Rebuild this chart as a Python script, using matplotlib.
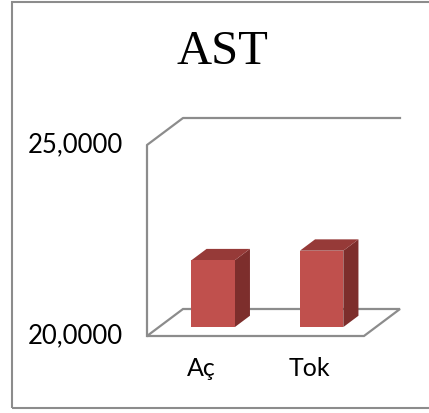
import matplotlib.pyplot as plt
from matplotlib.patches import Rectangle

# AST levels, fasting vs fed
categories = ["Aç", "Tok"]
values = [21.75, 22.0]
y_ticks = [20, 25]
y_tick_labels = ["20,0000", "25,0000"]
title = "AST"

# 3D look: depth offset of the back plane (x units, value units)
DX, DY = 0.332, 0.707
bar_w = 0.4
t_front, t_back = 0.33, 0.75

wall_c = "#8c8c8c"
front_c = "#c0504d"
top_c = "#963a38"
side_c = "#7d2e2c"

fig = plt.figure(figsize=(4.29, 4.13), dpi=100)
ax = fig.add_axes([147 / 429, 77 / 413, 253 / 429, 218 / 413])
ax.set_xlim(-0.5, 1.5 + DX)
ax.set_ylim(20, 25 + DY)
ax.axis("off")

y0, y1 = y_ticks
# floor
ax.fill([-0.5, 1.5, 1.5 + DX, -0.5 + DX], [y0, y0, y0 + DY, y0 + DY],
        facecolor="white", edgecolor=wall_c, lw=1.6, clip_on=False, zorder=1)
# left wall edges and top of back wall
ax.plot([-0.5, -0.5, -0.5 + DX, 1.5 + DX], [y0, y1, y1 + DY, y1 + DY],
        color=wall_c, lw=1.6, clip_on=False, zorder=1)

for i, v in enumerate(values):
    xl = i - bar_w / 2 + t_front * DX
    xr = xl + bar_w
    yb = y0 + t_front * DY
    yt = v + t_front * DY
    ddx = (t_back - t_front) * DX
    ddy = (t_back - t_front) * DY
    ax.fill([xr, xr + ddx, xr + ddx, xr], [yb, yb + ddy, yt + ddy, yt],
            color=side_c, lw=0, clip_on=False, zorder=3)
    ax.fill([xl, xr, xr + ddx, xl + ddx], [yt, yt, yt + ddy, yt + ddy],
            color=top_c, lw=0, clip_on=False, zorder=3)
    ax.fill([xl, xr, xr, xl], [yb, yb, yt, yt],
            color=front_c, lw=0, clip_on=False, zorder=4)

for yv, lab in zip(y_ticks, y_tick_labels):
    ax.annotate(lab, (-0.5, yv), xytext=(-24, 0), textcoords="offset pixels",
                ha="right", va="center", fontsize=18.5, family="Lato",
                annotation_clip=False)

for i, lab in enumerate(categories):
    ax.annotate(lab, (i, y0), xytext=(0, -32), textcoords="offset pixels",
                ha="center", va="center", fontsize=18, family="Lato",
                annotation_clip=False)

fig.text(222 / 429, 1 - 52 / 413, title, ha="center", va="center",
         fontsize=35, family="Liberation Serif")

fig.add_artist(Rectangle((12 / 429, 5 / 413), 1.2, 1 - 6.5 / 413,
                         transform=fig.transFigure, fill=False,
                         edgecolor="#8c8c8c", lw=1.5))

fig.savefig("out.png", dpi=100)
